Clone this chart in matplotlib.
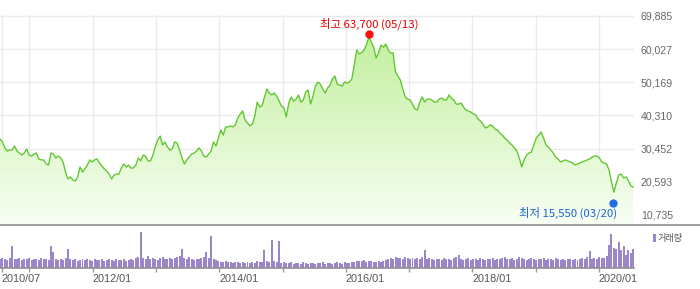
import numpy as np
import pandas as pd
import matplotlib
matplotlib.use("Agg")
import matplotlib.pyplot as plt
import matplotlib.dates as mdates
from matplotlib.transforms import offset_copy
from matplotlib.patches import Rectangle
from matplotlib.lines import Line2D

# ---------------- data ----------------
start_date = "2010-07-16"   # bi-weekly closes
price = [
    33300, 32450, 30650, 29750, 30050, 30050, 31250, 29750, 29150, 28550,
    29150, 30350, 28550, 28250, 28850, 29150, 27400, 27100, 27100, 25900,
    25600, 29150, 28850, 27700, 28250, 27700, 26500, 23500, 21450, 22050,
    21150, 20850, 22050, 25000, 23500, 24400, 25600, 27100, 26500, 27100,
    27400, 26200, 25300, 24400, 23800, 22900, 21450, 22600, 22900, 22900,
    24700, 25900, 25000, 25600, 24700, 24700, 25600, 27700, 26800, 28550,
    28250, 26800, 26800, 28550, 30950, 33000, 34200, 31550, 32450, 30950,
    30050, 30350, 32450, 32150, 30050, 27700, 25900, 27100, 27950, 28850,
    29150, 29750, 30650, 29750, 28250, 27950, 28850, 29750, 32450, 31250,
    33600, 36000, 34500, 36900, 36900, 37200, 36900, 37500, 39550, 40750,
    41650, 38950, 38100, 37200, 37800, 40150, 44300, 42850, 43150, 45800,
    48200, 47000, 46400, 47000, 46100, 44600, 43150, 42550, 39850, 44000,
    45800, 44600, 45200, 46400, 44300, 44900, 47300, 47900, 43700, 46100,
    49050, 50250, 49650, 48200, 47000, 48500, 49350, 51150, 52050, 49650,
    49350, 49050, 50250, 49950, 50250, 51150, 55300, 59750, 58600, 58900,
    59750, 61250, 63700, 62150, 60650, 57400, 58900, 61250, 60650, 61550,
    59750, 58900, 58900, 53250, 52050, 50850, 48200, 45800, 45200, 44900,
    43700, 42250, 41950, 44300, 45800, 44300, 45200, 45200, 44900, 44300,
    44300, 45200, 45500, 44900, 44900, 46400, 45500, 44900, 43700, 43700,
    44000, 42850, 41950, 41650, 41350, 40750, 40450, 39250, 38650, 37800,
    36600, 36900, 37500, 37200, 36300, 36000, 35100, 34500, 33600, 33000,
    32150, 31550, 30650, 29750, 27700, 25000, 27100, 28550, 29150, 29450,
    31550, 33600, 34500, 35400, 33600, 31550, 30950, 30050, 29150, 27950,
    27400, 26500, 26800, 27100, 26800, 26500, 26200, 25600, 25900, 26200,
    26500, 26800, 27100, 27400, 27950, 28250, 28250, 27700, 26500, 26200,
    25900, 24100, 20550, 17550, 20250, 22600, 22900, 21750, 22050, 20850,
    19350, 19050,
]
volume = [
    95, 100, 90, 85, 100, 220, 95, 90, 100, 85,
    95, 90, 100, 80, 90, 95, 85, 100, 90, 95,
    85, 220, 160, 90, 80, 95, 85, 100, 190, 90,
    80, 95, 75, 85, 90, 80, 95, 85, 75, 90,
    80, 85, 95, 70, 80, 90, 85, 75, 95, 80,
    85, 90, 75, 80, 95, 85, 100, 110, 360, 100,
    90, 120, 95, 105, 90, 85, 100, 110, 95, 90,
    105, 95, 100, 110, 120, 190, 100, 95, 110, 90,
    85, 95, 90, 100, 110, 160, 100, 320, 95, 80,
    70, 65, 60, 70, 65, 60, 55, 65, 60, 55,
    60, 55, 65, 50, 60, 55, 70, 65, 60, 180,
    75, 60, 280, 70, 65, 270, 55, 60, 50, 55,
    60, 45, 50, 55, 45, 60, 50, 45, 55, 50,
    45, 55, 50, 60, 45, 50, 55, 45, 50, 60,
    55, 45, 60, 50, 55, 60, 65, 70, 75, 70,
    80, 65, 70, 75, 60, 65, 70, 60, 75, 80,
    95, 100, 90, 110, 105, 100, 95, 110, 100, 95,
    105, 90, 100, 95, 110, 180, 90, 100, 95, 85,
    90, 95, 85, 100, 90, 95, 85, 100, 110, 130,
    90, 85, 95, 100, 85, 90, 95, 85, 100, 90,
    85, 95, 90, 100, 85, 90, 95, 100, 110, 90,
    95, 100, 85, 90, 110, 100, 90, 85, 95, 100,
    90, 85, 95, 90, 100, 85, 95, 90, 85, 100,
    90, 85, 95, 80, 90, 95, 85, 90, 80, 95,
    100, 90, 110, 170, 95, 100, 90, 110, 105, 100,
    120, 230, 340, 200, 190, 260, 180, 220, 130, 180,
    150, 190,
]
y_ticks = [10735, 20593, 30452, 40310, 50169, 60027, 69885]
x_tick_dates = ["2010-07-25", "2011-01-01", "2012-01-01", "2013-01-01",
                "2014-01-01", "2015-01-01", "2016-01-01", "2017-01-01",
                "2018-01-01", "2019-01-01", "2020-01-01"]
x_tick_labels = ["2010/07", "", "2012/01", "", "2014/01", "", "2016/01", "",
                 "2018/01", "", "2020/01"]
high_value, high_date, high_label = 63700, "2016-05-13", "최고 63,700 (05/13)"
low_value, low_date, low_label = 15550, "2020-03-20", "최저 15,550 (03/20)"
volume_label = "거래량"

# ---------------- figure ----------------
W, H = 700, 289
fig = plt.figure(figsize=(W / 100, H / 100), dpi=100)
cjk = ["Noto Sans CJK KR", "DejaVu Sans"]

dates = pd.date_range(start_date, periods=len(price), freq="14D")
xnum = mdates.date2num(dates)
xmin = xnum[0]
xmax = xnum[-1] + 4
ymin, ymax = 7763, 70200

ax = fig.add_axes([0, 64 / H, 634 / W, 210.1 / H])
ax.set_facecolor("white")

# gradient fill clipped under the line
poly = ax.fill_between(xnum, price, ymin, facecolor="none", edgecolor="none")
top_c = np.array([189, 238, 149]) / 255
bot_c = np.array([248, 254, 244]) / 255
t = np.linspace(0, 1, 256)[:, None]
grad = (top_c[None, :] * (1 - t) + bot_c[None, :] * t)[:, None, :]
im = ax.imshow(grad, extent=[xmin, xmax, ymin, 69885], aspect="auto",
               origin="upper", zorder=1, interpolation="bilinear")
im.set_clip_path(poly.get_paths()[0], transform=ax.transData)

ax.plot(xnum, price, color="#5cc62a", lw=0.95, zorder=3, solid_joinstyle="round")

ax.set_xlim(xmin, xmax)
ax.set_ylim(ymin, ymax)
ax.set_yticks(y_ticks)
ax.set_yticklabels([f"{v:,}" for v in y_ticks])
ax.yaxis.tick_right()
ax.tick_params(axis="y", length=0, pad=5, labelsize=7.6, labelcolor="#666666")
for lab in ax.get_yticklabels():
    lab.set_family("Liberation Sans")
xt = mdates.date2num(pd.to_datetime(x_tick_dates))
ax.set_xticks(xt)
ax.tick_params(axis="x", length=0, labelbottom=False)
ax.grid(True, color="#ebebeb", lw=1, zorder=0)
ax.set_axisbelow(True)
for s in ax.spines.values():
    s.set_visible(False)

# high / low markers
hx = mdates.date2num(pd.Timestamp(high_date))
lx = mdates.date2num(pd.Timestamp(low_date))
ax.plot([hx], [high_value], "o", ms=6, color="#ff1010", mec="none", zorder=5,
        clip_on=False, transform=offset_copy(ax.transData, fig=fig, x=0, y=3, units="dots"))
ax.text(hx, high_value, high_label, ha="center", va="center", fontsize=8.2,
        color="#e80000", family=cjk, clip_on=False, zorder=6,
        transform=offset_copy(ax.transData, fig=fig, x=0, y=13, units="dots"))
ax.plot([lx], [low_value], "o", ms=6, color="#1f6fe5", mec="none", zorder=5,
        clip_on=False, transform=offset_copy(ax.transData, fig=fig, x=0, y=-4, units="dots"))
ax.text(lx, low_value, low_label, ha="right", va="center", fontsize=8.2,
        color="#1a64d4", family=cjk, clip_on=False, zorder=6,
        transform=offset_copy(ax.transData, fig=fig, x=4, y=-14, units="dots"))

# border under price panel
yb = 64 / H
fig.add_artist(Line2D([0, 1], [yb, yb], transform=fig.transFigure,
                      color="#8f8f8f", lw=1.2))

# ---------------- volume panel ----------------
vax = fig.add_axes([0, 21 / H, 634 / W, 42 / H])
vax.bar(xnum, volume, width=11.5, color="#9a86c8", linewidth=0, align="center")
vax.set_xlim(xmin, xmax)
vax.set_ylim(0, 420)
vax.set_yticks([])
vax.set_xticks(xt)
vax.set_xticklabels(x_tick_labels)
vax.tick_params(axis="x", length=3, width=1, color="#9a9a9a", pad=1.5,
                labelsize=7.8, labelcolor="#555555")
for lab in vax.get_xticklabels():
    lab.set_ha("left")
    lab.set_family("Liberation Sans")
for k, s in vax.spines.items():
    s.set_visible(k == "bottom")
vax.spines["bottom"].set_color("#8f8f8f")
vax.spines["bottom"].set_linewidth(1.2)

# volume legend
fig.add_artist(Rectangle((653 / W, (289 - 242) / H), 3 / W, 8 / H,
                         transform=fig.transFigure, color="#9a86c8", lw=0))
fig.text(658 / W, (289 - 238) / H, volume_label, ha="left", va="center",
         fontsize=6.6, color="#555555", family=cjk)

fig.savefig("out.png", dpi=100)
